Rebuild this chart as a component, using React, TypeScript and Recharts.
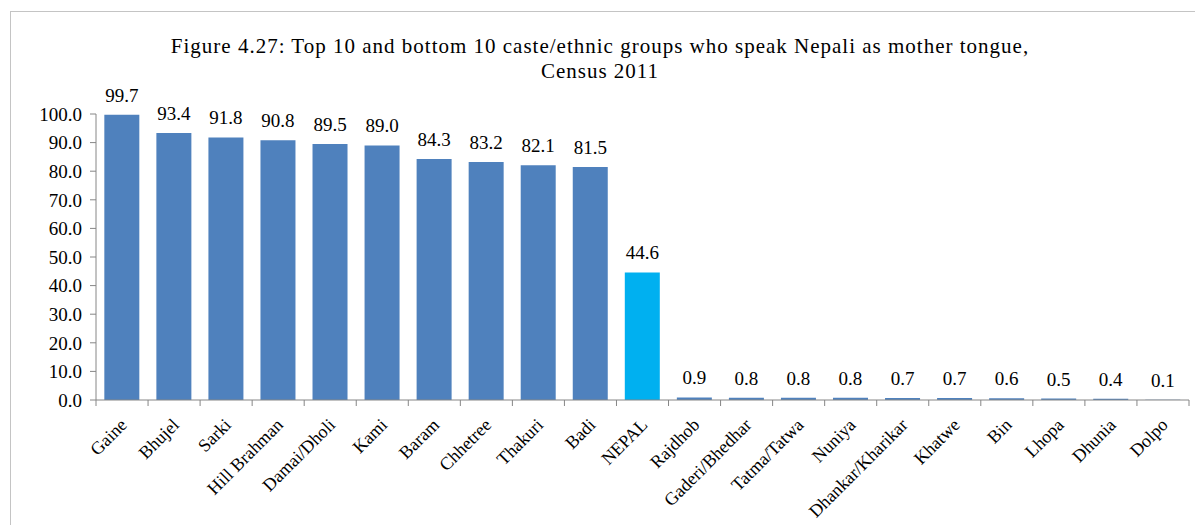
import { BarChart, Bar, XAxis, YAxis, Cell, LabelList } from "recharts";

const groups = [
  "Gaine", "Bhujel", "Sarki", "Hill Brahman", "Damai/Dholi", "Kami", "Baram",
  "Chhetree", "Thakuri", "Badi", "NEPAL", "Rajdhob", "Gaderi/Bhedhar",
  "Tatma/Tatwa", "Nuniya", "Dhankar/Kharikar", "Khatwe", "Bin", "Lhopa",
  "Dhunia", "Dolpo",
];
const nepaliShare = [
  99.7, 93.4, 91.8, 90.8, 89.5, 89.0, 84.3, 83.2, 82.1, 81.5, 44.6,
  0.9, 0.8, 0.8, 0.8, 0.7, 0.7, 0.6, 0.5, 0.4, 0.1,
];
const yTicks = [0, 10, 20, 30, 40, 50, 60, 70, 80, 90, 100];

const data = groups.map((g, i) => ({ group: g, value: nepaliShare[i] }));

const W = 1195;
const H = 525;
const PLOT_LEFT = 96;
const PLOT_RIGHT = 1189;
const BAND = (PLOT_RIGHT - PLOT_LEFT) / groups.length;
const FONT = "'Liberation Serif', 'Times New Roman', serif";
const AXIS = "#868686";

// category labels sit under the bars, tick marks between categories (Excel style)
function GroupTick(props: any) {
  const { x, y, payload, index } = props;
  const last = index === groups.length - 1;
  const ax = x + 6;
  const ay = y + 26;
  return (
    <g>
      <line x1={x - BAND / 2} y1={y} x2={x - BAND / 2} y2={y + 6} stroke={AXIS} />
      {last && <line x1={x + BAND / 2} y1={y} x2={x + BAND / 2} y2={y + 6} stroke={AXIS} />}
      <text
        x={ax}
        y={ay}
        transform={`rotate(-45, ${ax}, ${ay})`}
        textAnchor="end"
        fontFamily={FONT}
        fontSize={18}
        fill="#000"
      >
        {payload.value}
      </text>
    </g>
  );
}

export default function App() {
  return (
    <div style={{ position: "absolute", left: 0, top: 0, width: W, height: H, background: "#fff" }}>
      <div
        style={{
          position: "absolute", left: 10, top: 11, width: W, height: H,
          borderTop: "1px solid #c4c4c4", borderLeft: "1px solid #c4c4c4",
        }}
      />
      <div
        style={{
          position: "absolute", left: 0, top: 34, width: 1200, textAlign: "center",
          fontFamily: FONT, fontSize: 21, lineHeight: "25px", letterSpacing: 1, color: "#000",
        }}
      >
        Figure 4.27: Top 10 and bottom 10 caste/ethnic groups who speak Nepali as mother tongue,
        <br />
        Census 2011
      </div>
      <BarChart
        width={W}
        height={H}
        data={data}
        margin={{ top: 114, right: W - PLOT_RIGHT, left: 0, bottom: 0 }}
        barCategoryGap="16%"
        style={{ position: "absolute", left: 0, top: 0 }}
      >
        <YAxis
          width={PLOT_LEFT}
          domain={[0, 100]}
          ticks={yTicks}
          interval={0}
          tickFormatter={(v: number) => v.toFixed(1)}
          stroke={AXIS}
          tickSize={6}
          tickMargin={8}
          tick={{ fill: "#000", fontFamily: FONT, fontSize: 19 }}
        />
        <XAxis
          dataKey="group"
          height={H - 400}
          interval={0}
          stroke={AXIS}
          tickLine={false}
          tickSize={0}
          tickMargin={0}
          tick={<GroupTick />}
        />
        <Bar dataKey="value" isAnimationActive={false}>
          {data.map((d) => (
            <Cell key={d.group} fill={d.group === "NEPAL" ? "#00B0F0" : "#4F81BD"} />
          ))}
          <LabelList
            dataKey="value"
            position="top"
            offset={13}
            formatter={(v: any) => Number(v).toFixed(1)}
            style={{ fill: "#000", fontFamily: FONT, fontSize: 19 }}
          />
        </Bar>
      </BarChart>
    </div>
  );
}
